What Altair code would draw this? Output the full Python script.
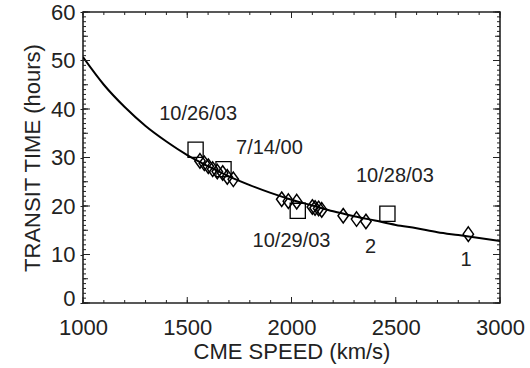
import altair as alt
import pandas as pd

# ---- data ----
curve_speed = [1000, 1100, 1200, 1300, 1400, 1500, 1600, 1700, 1800, 1900, 2000,
               2100, 2200, 2300, 2400, 2500, 2600, 2700, 2800, 2900, 3000]
curve_time = [50.7, 45.0, 40.4, 36.5, 33.3, 30.5, 28.2, 26.1, 24.3, 22.7, 21.3,
              20.1, 18.9, 17.9, 17.0, 16.1, 15.4, 14.6, 14.0, 13.4, 12.8]

square_speed = [1540, 1674, 2030, 2460]
square_time = [31.6, 27.6, 19.0, 18.4]

diamond_speed = [1561, 1582, 1601, 1622, 1644, 1670, 1692, 1721,
                 1953, 1985, 2025, 2100, 2113, 2130, 2145, 2248, 2312, 2357, 2848]
diamond_time = [29.3, 28.8, 28.2, 27.6, 27.1, 26.8, 26.0, 25.5,
                21.4, 21.0, 20.9, 19.8, 19.6, 19.5, 19.2, 18.0, 17.3, 16.8, 14.2]

label_text = ["10/26/03", "7/14/00", "10/28/03", "10/29/03", "2", "1"]
label_speed = [1552, 1894, 2496, 2000, 2379, 2837]
label_time = [39.0, 32.0, 26.2, 12.7, 11.6, 8.8]

x_tick_labels = [1000, 1500, 2000, 2500, 3000]
y_tick_labels = [0, 10, 20, 30, 40, 50, 60]
x_minor = list(range(1000, 3001, 100))
y_minor = list(range(0, 61, 1))
y_mid = list(range(0, 61, 5))

# ---- chart ----
W, H = 417, 291
INK = "#222222"
FONT = "Liberation Sans"

xs = alt.Scale(domain=[1000, 3000], nice=False, zero=False)
ys = alt.Scale(domain=[0, 60], nice=False, zero=False)

x_axis = alt.Axis(values=x_tick_labels, format="d", title="CME SPEED (km/s)",
                  grid=False, domain=False, ticks=False, labelPadding=14,
                  labelFontSize=22, titleFontSize=22, titleFontWeight="normal",
                  labelColor=INK, titleColor=INK, titlePadding=3, labelFlush=False)
y_axis = alt.Axis(values=y_tick_labels, format="d", title="TRANSIT TIME (hours)",
                  grid=False, domain=False, ticks=True, tickSize=3, tickColor=INK,
                  labelPadding=5, labelFontSize=22, titleFontSize=22,
                  titleFontWeight="normal", labelColor=INK, titleColor=INK,
                  titlePadding=6, labelFlush=False,
                  labelOffset={"condition": {"test": "datum.value === 0", "value": -5},
                               "value": 0})

X = lambda f: alt.X(f, type="quantitative", scale=xs, axis=x_axis)
Y = lambda f: alt.Y(f, type="quantitative", scale=ys, axis=y_axis)

curve_df = pd.DataFrame({"speed": curve_speed, "time": curve_time})
sq_df = pd.DataFrame({"speed": square_speed, "time": square_time})
dm_df = pd.DataFrame({"speed": diamond_speed, "time": diamond_time})
lab_df = pd.DataFrame({"label": label_text, "speed": label_speed, "time": label_time})
xm_df = pd.DataFrame({"v": x_minor})
xM_df = pd.DataFrame({"v": x_tick_labels})
ym_df = pd.DataFrame({"v": y_minor})
y5_df = pd.DataFrame({"v": y_mid})
yM_df = pd.DataFrame({"v": y_tick_labels})

curve = alt.Chart(curve_df).mark_line(color="black", strokeWidth=2, interpolate="monotone", clip=True).encode(
    x=X("speed"), y=Y("time"))

squares = alt.Chart(sq_df).mark_point(shape="square", size=230, filled=False, color="black",
                                      strokeWidth=1.3, opacity=1).encode(x=X("speed"), y=Y("time"))

diamonds = alt.Chart(dm_df).mark_point(shape="M0,-1L0.72,0L0,1L-0.72,0Z", size=210, filled=False,
                                       color="black", strokeWidth=1.5, opacity=1).encode(
    x=X("speed"), y=Y("time"))

labels = alt.Chart(lab_df).mark_text(font=FONT, fontSize=20, color=INK).encode(
    x=X("speed"), y=Y("time"), text="label:N")

tick_style = dict(color=INK, strokeWidth=1)

def xticks(df, length):
    bottom = alt.Chart(df).mark_rule(**tick_style).encode(
        x=X("v"), y=alt.value(H), y2=alt.value(H - length))
    top = alt.Chart(df).mark_rule(**tick_style).encode(
        x=X("v"), y=alt.value(0), y2=alt.value(length))
    return [bottom, top]

def yticks(df, length):
    left = alt.Chart(df).mark_rule(**tick_style).encode(
        y=Y("v"), x=alt.value(0), x2=alt.value(length))
    right = alt.Chart(df).mark_rule(**tick_style).encode(
        y=Y("v"), x=alt.value(W), x2=alt.value(W - length))
    return [left, right]

layers = [curve, squares, diamonds, labels]
layers += xticks(xm_df, 3) + xticks(xM_df, 6)
layers += yticks(ym_df, 3) + yticks(y5_df, 5) + yticks(yM_df, 7)

chart = alt.layer(*layers).properties(
    width=W, height=H,
    autosize=alt.AutoSizeParams(type="none"),
    padding={"left": 83, "top": 12, "right": 30, "bottom": 65},
    background="white",
).configure_view(stroke=INK, strokeWidth=1.6).configure_axis(
    labelFont=FONT, titleFont=FONT
)

chart.save("out.html", embed_options={"renderer": "svg", "actions": False})
